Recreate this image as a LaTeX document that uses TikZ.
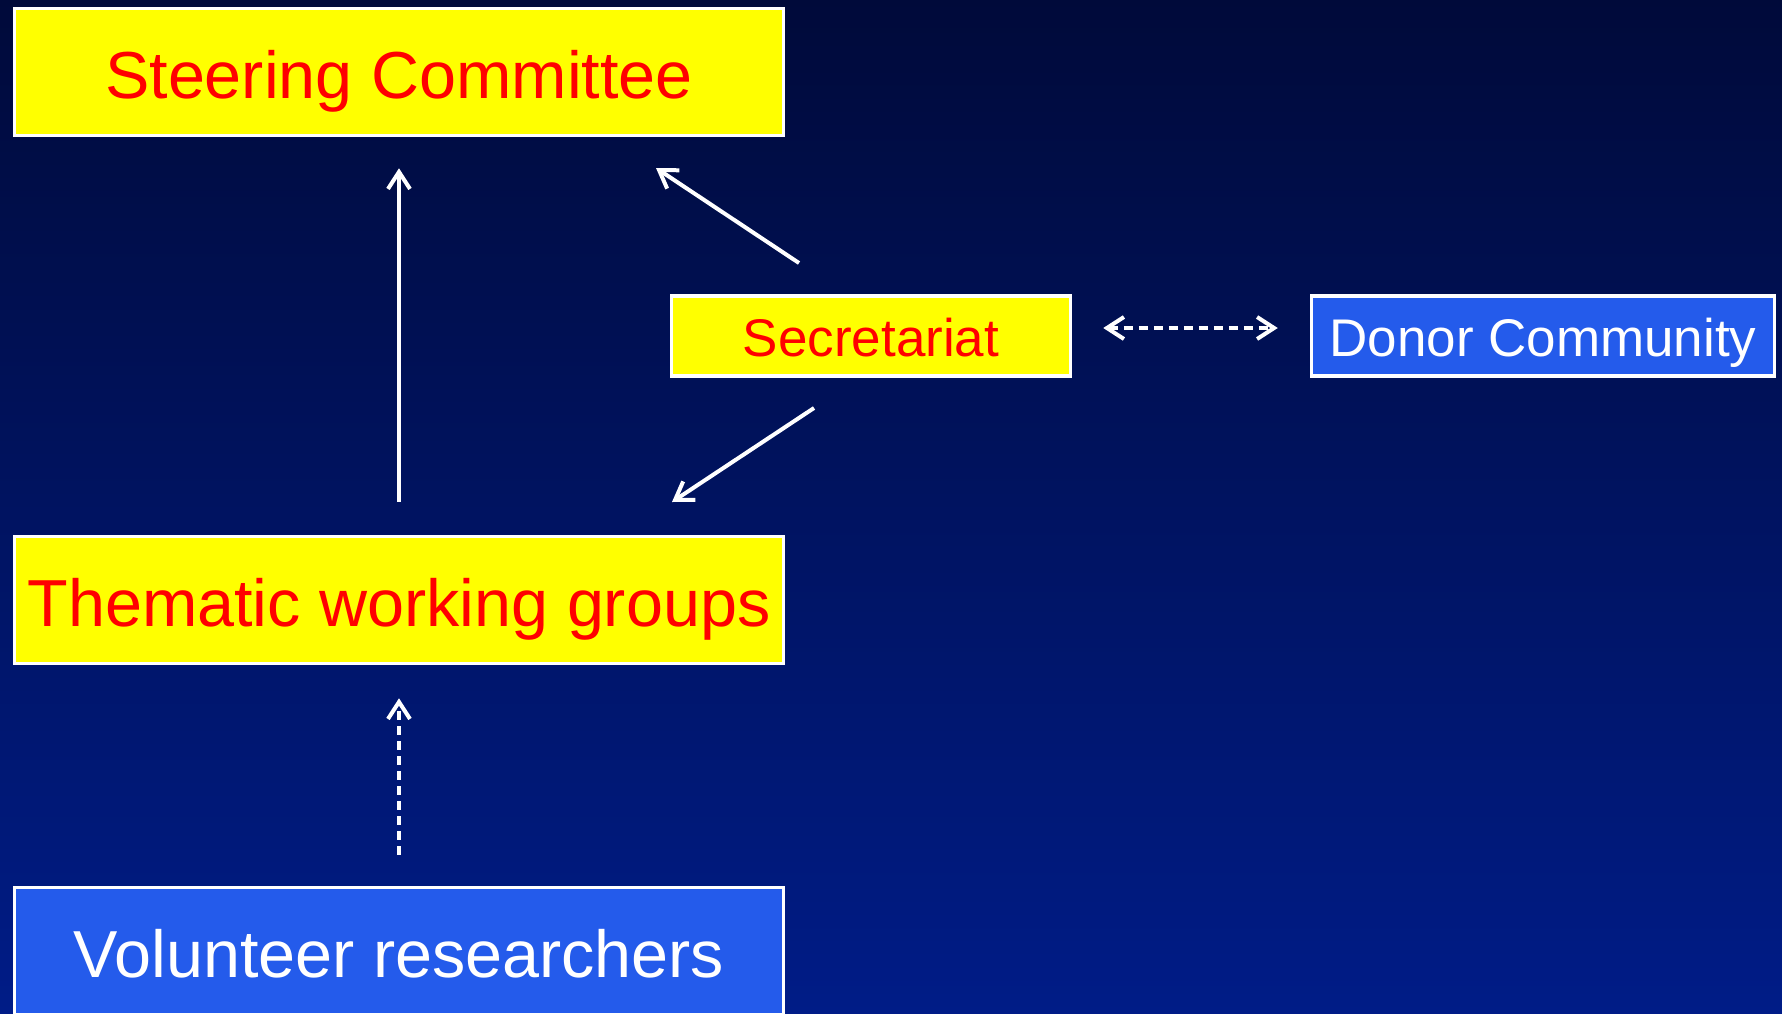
\documentclass[tikz,border=0pt]{standalone}
\usepackage{fontspec}
\setmainfont{Liberation Sans}
\usetikzlibrary{arrows.meta}
\definecolor{bgtop}{RGB}{0,10,58}
\definecolor{bgbot}{RGB}{0,28,135}
\definecolor{boxyellow}{RGB}{255,255,0}
\definecolor{boxblue}{RGB}{36,91,235}
\definecolor{txtred}{RGB}{255,0,0}
\tikzset{
  basebox/.style={draw=white, line width=3.5pt, inner sep=0pt, align=center},
  bigbox/.style={basebox, minimum width=769pt, minimum height=127pt,
    font=\fontsize{66.5}{79}\selectfont, text height=56pt, text depth=4pt},
  smallbox/.style={basebox, minimum height=80pt,
    font=\fontsize{53}{64}\selectfont, text height=44pt, text depth=4pt},
  yellowbox/.style={fill=boxyellow, text=txtred},
  bluebox/.style={fill=boxblue, text=white},
  conn/.style={draw=white, line width=4pt, -{Straight Barb[length=17pt,width=22pt]}},
  dconn/.style={conn, dash pattern=on 9pt off 6pt},
  ddconn/.style={dconn, {Straight Barb[length=17pt,width=22pt]}-{Straight Barb[length=17pt,width=22pt]}}
}
\begin{document}
\begin{tikzpicture}[x=1pt,y=-1pt]
\shade[top color=bgtop, bottom color=bgbot] (0,0) rectangle (1782,1013);
\useasboundingbox (0,0) rectangle (1782,1013);
\begin{scope}
\clip (0,0) rectangle (1782,1013);
\node[bigbox, yellowbox] (steer) at (399,72) {Steering Committee};
\node[bigbox, yellowbox] (them) at (399,600) {Thematic working groups};
\node[bigbox, bluebox] (vol) at (399,951) {Volunteer researchers};
\node[smallbox, yellowbox, minimum width=399pt] (secr) at (871,336) {Secretariat};
\node[smallbox, bluebox, minimum width=463pt] (donor) at (1543,336) {Donor Community};
\coordinate (u1) at (799,263);
\coordinate (u2) at (656,168);
\coordinate (l1) at (814,408);
\coordinate (l2) at (672,502);
\draw[conn, shorten <=33pt, shorten >=31pt] (them.north) -- (steer.south);
\draw[conn] (u1) -- (u2);
\draw[conn] (l1) -- (l2);
\draw[dconn, shorten <=31pt, shorten >=33pt] (vol.north) -- (them.south);
\draw[ddconn, shorten <=31pt, shorten >=32pt] ([yshift=8pt]secr.east) -- ([yshift=8pt]donor.west);
\end{scope}
\end{tikzpicture}
\end{document}
